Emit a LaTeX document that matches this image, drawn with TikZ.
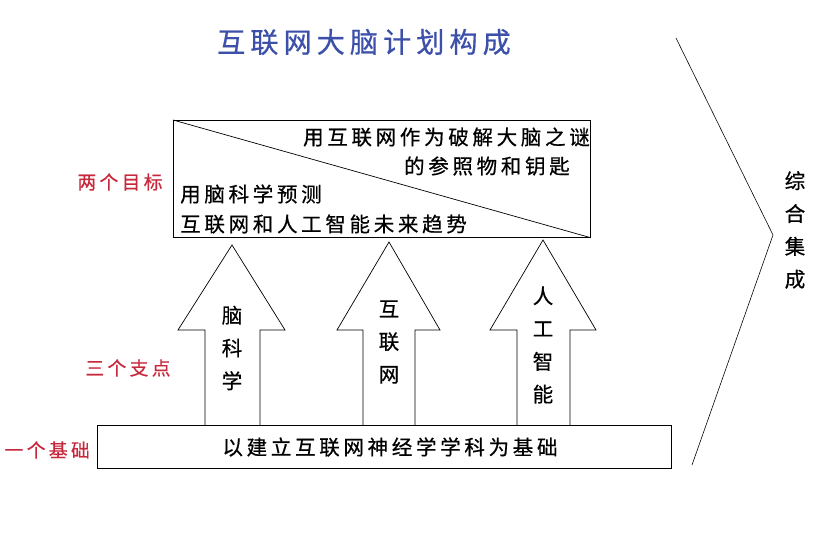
\documentclass[tikz,border=0pt]{standalone}
\usepackage{fontspec}
\setmainfont[LetterSpace=18,FakeBold=0.6]{Noto Sans CJK SC}
\definecolor{titleblue}{RGB}{60,80,170}
\definecolor{lblred}{RGB}{200,40,60}
\begin{document}
\begin{tikzpicture}[x=0.03cm,y=-0.03cm,
  txt/.style={font=\fontsize{17.5}{20}\selectfont,inner sep=0pt},
  vtxt/.style={font=\fontsize{17.5}{20}\selectfont,inner sep=0pt,align=center},
  lbl/.style={font=\fontsize{16}{18}\selectfont,text=lblred,inner sep=0pt},
  arr/.style={draw=black,line width=0.6pt,fill=white}]
\useasboundingbox (0,0) rectangle (831,535);
\node[font=\fontsize{24}{28}\selectfont,text=titleblue,inner sep=0pt] (title) at (364,42) {互联网大脑计划构成};
% arrows
\draw[arr] (205,425) -- (205,330) -- (178,330) -- (232,245) -- (285,330) -- (260,330) -- (260,425);
\draw[arr] (363,425) -- (363,330) -- (337,330) -- (389,242) -- (440,330) -- (415,330) -- (415,425);
\draw[arr] (517,425) -- (517,330) -- (490,330) -- (543,240) -- (596,330) -- (570,330) -- (570,425);
% top box
\node[draw,line width=0.6pt,minimum width=417*0.03cm,minimum height=117*0.03cm,anchor=north west,inner sep=0pt] (goal) at (173,120) {};
\draw[line width=0.6pt] (goal.north west) -- (goal.south east);
\node[txt,anchor=east] (g1) at (590,137) {用互联网作为破解大脑之谜};
\node[txt,anchor=east] (g2) at (570,166) {的参照物和钥匙};
\node[txt,anchor=west] (g3) at (180,194) {用脑科学预测};
\node[txt,anchor=west] (g4) at (180,224) {互联网和人工智能未来趋势};
% bottom box
\node[draw,line width=0.6pt,fill=white,minimum width=574*0.03cm,minimum height=43*0.03cm,anchor=north west,inner sep=0pt] (base) at (97,425) {};
\node[txt] (basetxt) at (390,447) {以建立互联网神经学学科为基础};
% vertical arrow labels
\node[vtxt] (a1) at (232,348) {脑\\[8pt]科\\[8pt]学};
\node[vtxt] (a2) at (389,342) {互\\[8pt]联\\[8pt]网};
\node[vtxt] (a3) at (543,345) {人\\[8pt]工\\[8pt]智\\[8pt]能};
% left labels
\node[lbl] (l1) at (120,182) {两个目标};
\node[lbl] (l2) at (128,368) {三个支点};
\node[lbl,anchor=east] (l3) at (90,450) {一个基础};
% brace line
\coordinate (b1) at (676,38);
\coordinate (b2) at (773,235);
\coordinate (b3) at (692,465);
\draw[line width=0.5pt] (b1) -- (b2) -- (b3);
\node[vtxt] (side) at (795,230) {综\\[8pt]合\\[8pt]集\\[8pt]成};
\end{tikzpicture}
\end{document}
